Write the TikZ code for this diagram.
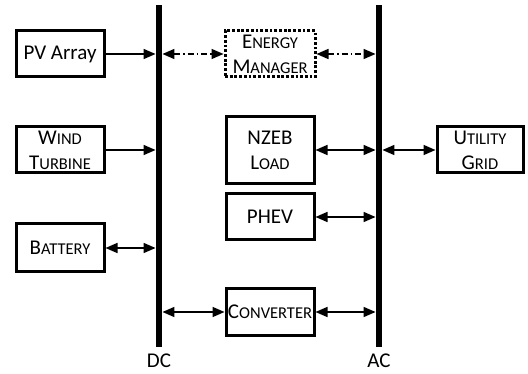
\documentclass[tikz,border=0pt]{standalone}
\usepackage{fontspec}
\setmainfont{Carlito}
\usetikzlibrary{arrows.meta, positioning}
\newcommand{\fakesc}[2]{#1{\fontsize{16.5}{20}\selectfont #2}}

\begin{document}
\begin{tikzpicture}[
      x=1pt, y=-1pt,
      font=\fontsize{21}{25}\selectfont,
      unit/.style={rectangle, draw, line width=3pt, minimum width=88pt,
                   minimum height=46pt, inner sep=0pt, align=center},
      mgr/.style={unit, line width=3pt, dash pattern=on 2.8pt off 1.9pt},
      bus/.style={rectangle, fill=black, inner sep=0pt, minimum width=6.5pt,
                  minimum height=342pt},
      arrow/.style={-{Triangle[length=12pt, width=10pt]}, line width=1.6pt},
      both/.style={{Triangle[length=12pt, width=10pt]}-{Triangle[length=12pt, width=10pt]}, line width=1.6pt},
      ctrl/.style={both, dash pattern=on 6pt off 3pt on 1.5pt off 3pt}
    ]
    \useasboundingbox (0,0) rectangle (528,374);

    % buses
    \node[bus] (dc) at (159,176) {};
    \node[bus] (ac) at (379,176) {};
    \node (dclbl) at (159,361) {DC};
    \node (aclbl) at (379,361) {AC};

    % DC side
    \node[unit] (pv) at (60,54) {PV Array};
    \node[unit] (wind) at (60,150) {\fakesc{W}{IND}\\\fakesc{T}{URBINE}};
    \node[unit, minimum height=48pt] (batt) at (60,248) {\fakesc{B}{ATTERY}};

    % middle
    \node[mgr, minimum width=90pt] (em) at (270,54) {\fakesc{E}{NERGY}\\\fakesc{M}{ANAGER}};
    \node[unit, minimum height=67pt] (nzeb) at (270,150) {NZEB\\\fakesc{L}{OAD}};
    \node[unit] (phev) at (270,217) {PHEV};
    \node[unit, minimum height=47pt] (conv) at (270,312) {\fakesc{C}{ONVERTER}};

    % AC side
    \node[unit, minimum width=86pt] (grid) at (480,150) {\fakesc{U}{TILITY}\\\fakesc{G}{RID}};

    \draw[arrow] (pv.east) -- (pv.east -| dc.west);
    \draw[arrow] (wind.east) -- (wind.east -| dc.west);
    \draw[both] (batt.east) -- (batt.east -| dc.west);

    \draw[ctrl] (em.west -| dc.east) -- (em.west);
    \draw[ctrl] (em.east) -- (em.east -| ac.west);

    \draw[both] (nzeb.east) -- (nzeb.east -| ac.west);
    \draw[both] (phev.east) -- (phev.east -| ac.west);
    \draw[both] (conv.west -| dc.east) -- (conv.west);
    \draw[both] (conv.east) -- (conv.east -| ac.west);
    \draw[both] (grid.west -| ac.east) -- (grid.west);
  \end{tikzpicture}
\end{document}
